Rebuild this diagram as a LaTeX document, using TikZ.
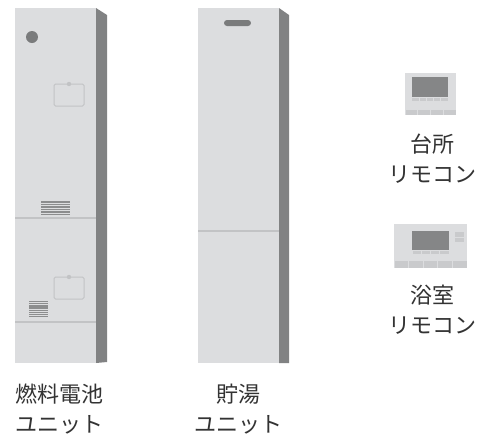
\documentclass[tikz,border=0pt]{standalone}
\usepackage{fontspec}
\newfontfamily\jpfont{Noto Sans CJK JP}
\definecolor{facegray}{HTML}{DCDDDF}
\definecolor{sidegray}{HTML}{818283}
\definecolor{seamgray}{HTML}{C2C3C5}
\definecolor{partgray}{HTML}{7A7B7C}
\definecolor{ventgray}{HTML}{8C8D8E}
\definecolor{screengray}{HTML}{858687}
\definecolor{keygray}{HTML}{C9CACC}
\definecolor{labelgray}{HTML}{333333}
\tikzset{
  front/.style={fill=facegray, draw=none},
  side/.style={fill=sidegray, draw=none},
  seam/.style={draw=seamgray, line width=1.2pt},
  lid/.style={draw=seamgray, line width=1pt, rounded corners=1.5pt},
  key/.style={fill=keygray, draw=none},
  label/.style={font=\jpfont\fontsize{22}{30}\selectfont, text=labelgray, align=center, inner sep=0pt}
}
\newcommand{\ventstripes}[5]{% x0, x1, y0, y1, count
  \foreach \k in {1,...,#5}{
    \fill[ventgray] (#1,{#3+(\k-1)*(#4-#3)/#5}) rectangle (#2,{#3+(\k-1)*(#4-#3)/#5+0.6*(#4-#3)/#5});
  }
}
\begin{document}
\begin{tikzpicture}[x=1pt,y=-1pt]
\useasboundingbox (0,0) rectangle (491,437);
\fill[white] (0,0) rectangle (491,437);

% fuel cell unit
\fill[front] (15,8) rectangle (96,363);
\fill[side] (96,8) -- (107,15) -- (107,362) -- (96,363) -- cycle;
\fill[partgray] (32,37) circle (6);
\draw[lid] (54,84) rectangle (84,106);
\fill[seamgray] (69,84) circle (2.2);
\draw[seam] (15,218) -- (96,218);
\draw[seam] (15,322) -- (96,322);
\ventstripes{41}{70}{201}{216}{6}
\draw[lid] (54,277) rectangle (84,299);
\fill[seamgray] (69,277) circle (2.2);
\ventstripes{29}{48}{301}{318}{8}

% hot water storage unit
\fill[front] (198,8) rectangle (279,363);
\fill[side] (279,8) -- (289,15) -- (289,363) -- (279,363) -- cycle;
\fill[partgray, rounded corners=3pt] (224,20) rectangle (251,26);
\draw[seam] (198,231) -- (279,231);

% kitchen remote
\fill[front] (405,73) rectangle (456,115);
\fill[screengray] (412,77) rectangle (448,97);
\foreach \i in {0,...,4}{
  \fill[key] ({412+\i*7.2+0.4},98) rectangle ({412+(\i+1)*7.2-0.4},101);
}
\foreach \i in {0,...,3}{
  \fill[key] ({405+\i*12.75+0.5},110) rectangle ({405+(\i+1)*12.75-0.5},115);
}

% bathroom remote
\fill[front] (394,224) rectangle (467,268);
\fill[screengray] (412,231) rectangle (449,250);
\foreach \i in {0,...,3}{
  \fill[key] ({412+\i*9.25+0.5},251) rectangle ({412+(\i+1)*9.25-0.5},254);
}
\fill[key] (455,232) rectangle (464,236.5);
\fill[key] (455,237.5) rectangle (464,242);
\foreach \i in {0,...,4}{
  \fill[key] ({394+\i*14.6+0.5},261) rectangle ({394+(\i+1)*14.6-0.5},268);
}

% labels
\node[label] (fclabel) at (60,409) {燃料電池\\ユニット};
\node[label] (tanklabel) at (238,409) {貯湯\\ユニット};
\node[label] (kitchenlabel) at (432,159) {台所\\リモコン};
\node[label] (bathlabel) at (432,310) {浴室\\リモコン};
\end{tikzpicture}
\end{document}
